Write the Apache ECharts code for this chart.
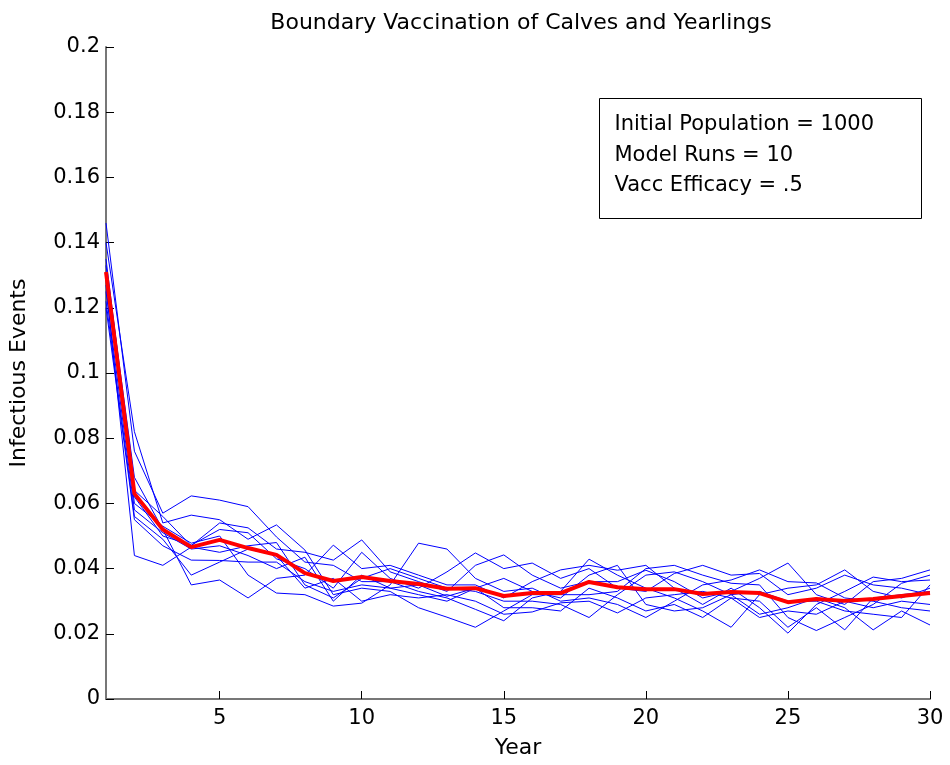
<!DOCTYPE html>
<html>
<head>
<meta charset="utf-8">
<script src="https://cdn.jsdelivr.net/npm/echarts@6/dist/echarts.min.js"></script>
<style>html,body{margin:0;padding:0;background:#fff}#c{width:950px;height:765px}</style>
</head>
<body>
<div id="c"></div>
<script>
const years = [1,2,3,4,5,6,7,8,9,10,11,12,13,14,15,16,17,18,19,20,21,22,23,24,25,26,27,28,29,30];
const xTickLabels = [5,10,15,20,25,30];
const yTicks = [0,0.02,0.04,0.06,0.08,0.1,0.12,0.14,0.16,0.18,0.2];

const run1 = [0.146,0.076,0.057,0.0623,0.061,0.059,0.0497,0.042,0.041,0.036,0.036,0.033,0.031,0.0275,0.024,0.031,0.033,0.0429,0.038,0.034,0.031,0.027,0.022,0.032,0.034,0.035,0.0396,0.033,0.031,0.034];
const run2 = [0.140,0.082,0.054,0.0564,0.055,0.049,0.0534,0.0457,0.032,0.034,0.033,0.028,0.0251,0.022,0.027,0.032,0.032,0.032,0.033,0.040,0.041,0.038,0.0355,0.035,0.025,0.021,0.025,0.029,0.0355,0.038];
const run3 = [0.135,0.064,0.056,0.047,0.054,0.0525,0.046,0.045,0.0426,0.0488,0.039,0.036,0.033,0.041,0.0442,0.038,0.034,0.036,0.036,0.0395,0.036,0.031,0.033,0.037,0.0417,0.032,0.029,0.036,0.037,0.0396];
const run4 = [0.133,0.068,0.052,0.035,0.0365,0.031,0.037,0.038,0.0472,0.040,0.041,0.038,0.035,0.035,0.031,0.036,0.0396,0.041,0.0395,0.041,0.034,0.029,0.034,0.028,0.0202,0.029,0.033,0.0374,0.036,0.0365];
const run5 = [0.131,0.060,0.053,0.0478,0.050,0.038,0.0325,0.032,0.0285,0.0294,0.035,0.0478,0.046,0.037,0.033,0.034,0.030,0.031,0.029,0.025,0.030,0.035,0.0365,0.0396,0.036,0.0356,0.031,0.030,0.028,0.027];
const run6 = [0.129,0.062,0.050,0.0472,0.052,0.051,0.043,0.040,0.034,0.045,0.037,0.034,0.039,0.0448,0.040,0.0417,0.037,0.040,0.034,0.033,0.0385,0.041,0.038,0.0385,0.032,0.034,0.038,0.035,0.034,0.032];
const run7 = [0.127,0.044,0.041,0.0466,0.045,0.047,0.048,0.035,0.031,0.037,0.040,0.037,0.034,0.033,0.030,0.030,0.029,0.025,0.032,0.038,0.039,0.036,0.032,0.026,0.028,0.031,0.028,0.0212,0.027,0.0227];
const run8 = [0.125,0.058,0.051,0.046,0.047,0.044,0.040,0.0435,0.030,0.038,0.034,0.035,0.0315,0.034,0.037,0.033,0.031,0.038,0.041,0.029,0.027,0.028,0.032,0.033,0.030,0.030,0.027,0.026,0.025,0.035];
const run9 = [0.122,0.056,0.049,0.038,0.042,0.046,0.044,0.034,0.037,0.030,0.032,0.031,0.032,0.030,0.026,0.0267,0.0295,0.030,0.0264,0.031,0.032,0.033,0.031,0.025,0.027,0.026,0.030,0.028,0.030,0.029];
const run10 = [0.120,0.055,0.047,0.0426,0.0425,0.042,0.042,0.036,0.033,0.035,0.034,0.032,0.030,0.034,0.028,0.028,0.027,0.034,0.031,0.027,0.029,0.025,0.031,0.030,0.022,0.028,0.0212,0.031,0.032,0.033];
const meanRun = [0.131,0.063,0.052,0.0466,0.0488,0.0463,0.0442,0.0386,0.0362,0.0374,0.0362,0.0353,0.0338,0.034,0.0316,0.0325,0.0325,0.0359,0.0343,0.0337,0.0337,0.0322,0.0328,0.0325,0.0297,0.0307,0.0301,0.0307,0.0316,0.0325];

const runs = [run1,run2,run3,run4,run5,run6,run7,run8,run9,run10];
const FONT = 'DejaVu Sans';

const series = runs.map((r, i) => ({
  name: 'Run ' + (i + 1),
  type: 'line',
  data: years.map((y, k) => [y, r[k]]),
  showSymbol: false,
  symbol: 'none',
  lineStyle: { color: '#0000ff', width: 1 },
  silent: true,
  animation: false
}));
series.push({
  name: 'Mean',
  type: 'line',
  data: years.map((y, k) => [y, meanRun[k]]),
  symbol: 'none',
  lineStyle: { color: '#ff0000', width: 4 },
  z: 5,
  animation: false
});

const chart = echarts.init(document.getElementById('c'), null, { renderer: 'canvas' });
chart.setOption({
  animation: false,
  backgroundColor: '#ffffff',
  title: {
    text: 'Boundary Vaccination of Calves and Yearlings',
    left: 516, top: 7, textAlign: 'center',
    textStyle: { fontFamily: FONT, fontSize: 22, fontWeight: 'normal', color: '#000' }
  },
  grid: { left: 103, right: 20, top: 47, bottom: 66 },
  xAxis: {
    type: 'value', min: 1, max: 30,
    name: 'Year', nameLocation: 'middle', nameGap: 38,
    nameTextStyle: { fontFamily: FONT, fontSize: 22, color: '#000' },
    axisLine: { lineStyle: { color: '#777', width: 2 } },
    axisTick: { inside: true, length: 8, customValues: xTickLabels, lineStyle: { color: '#000' } },
    axisLabel: { customValues: xTickLabels, fontFamily: FONT, fontSize: 21, color: '#000', margin: 9 },
    splitLine: { show: false }
  },
  yAxis: {
    type: 'value', min: 0, max: 0.2, interval: 0.02,
    name: 'Infectious Events', nameLocation: 'middle', nameGap: 76, nameRotate: 90,
    nameTextStyle: { fontFamily: FONT, fontSize: 22, color: '#000' },
    axisLine: { show: true, lineStyle: { color: '#777', width: 2 } },
    axisTick: { show: true, inside: true, length: 8, lineStyle: { color: '#000' } },
    axisLabel: {
      fontFamily: FONT, fontSize: 21, color: '#000', margin: 6,
      formatter: v => String(+(+v).toFixed(2))
    },
    splitLine: { show: false }
  },
  graphic: [{
    type: 'group', left: 599, top: 98,
    children: [
      { type: 'rect', shape: { x: 0, y: 0, width: 322, height: 120 },
        style: { fill: '#fff', stroke: '#000', lineWidth: 1 } },
      { type: 'text', x: 15, y: 26, style: { text: 'Initial Population = 1000', fontFamily: FONT, fontSize: 21, fill: '#000', textVerticalAlign: 'middle' } },
      { type: 'text', x: 15, y: 57, style: { text: 'Model Runs = 10', fontFamily: FONT, fontSize: 21, fill: '#000', textVerticalAlign: 'middle' } },
      { type: 'text', x: 15, y: 87, style: { text: 'Vacc Efficacy = .5', fontFamily: FONT, fontSize: 21, fill: '#000', textVerticalAlign: 'middle' } }
    ]
  }],
  series: series
});
</script>
</body>
</html>
